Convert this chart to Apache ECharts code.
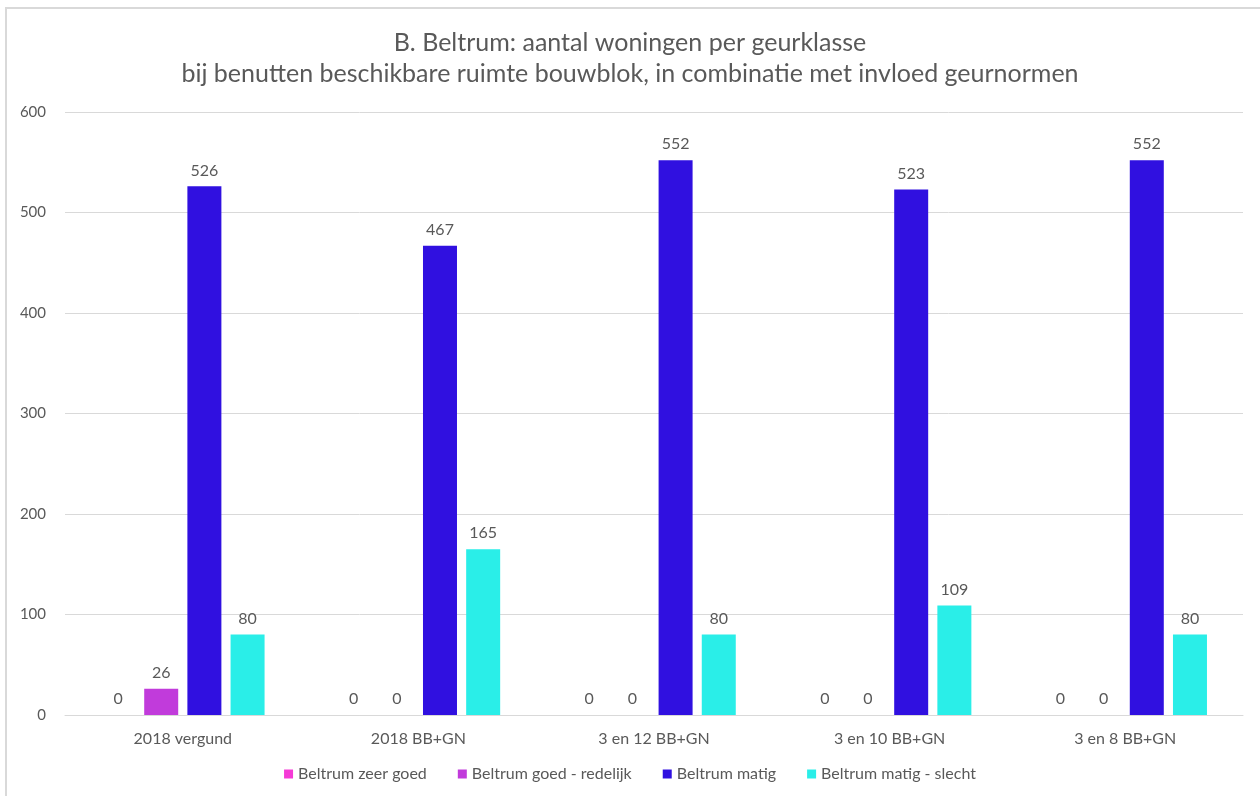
<!DOCTYPE html>
<html><head><meta charset="utf-8">
<script src="https://cdn.jsdelivr.net/npm/echarts@6/dist/echarts.min.js"></script>
<style>
html,body{margin:0;padding:0;background:#fff;}
#frame{position:absolute;left:5px;top:7px;width:1260px;height:800px;border-left:2px solid #d9d9d9;border-top:2px solid #d9d9d9;box-sizing:border-box;}
#c{position:absolute;left:0;top:0;width:1260px;height:796px;}
</style></head>
<body>
<div id="frame"></div>
<div id="c"></div>
<script>
const categories = ["2018 vergund", "2018 BB+GN", "3 en 12 BB+GN", "3 en 10 BB+GN", "3 en 8 BB+GN"];
const seriesNames = ["Beltrum zeer goed", "Beltrum goed - redelijk", "Beltrum matig", "Beltrum matig - slecht"];
const zeerGoed = [0, 0, 0, 0, 0];
const goedRedelijk = [26, 0, 0, 0, 0];
const matig = [526, 467, 552, 523, 552];
const matigSlecht = [80, 165, 80, 109, 80];
const yTicks = [0, 100, 200, 300, 400, 500, 600];
const colors = ["#F53AD6", "#C13BDB", "#3010E0", "#2AEEE8"];

const font = "Lato, 'Open Sans', sans-serif";
const values = [zeerGoed, goedRedelijk, matig, matigSlecht];
const chart = echarts.init(document.getElementById('c'), null, {renderer: 'canvas'});
chart.setOption({
  animation: false,
  color: colors,
  title: {
    text: "B. Beltrum: aantal woningen per geurklasse\nbij benutten beschikbare ruimte bouwblok, in combinatie met invloed geurnormen",
    left: 'center', top: 22,
    textStyle: {fontFamily: font, fontSize: 25, fontWeight: 'normal', color: '#595959', lineHeight: 31}
  },
  legend: {
    bottom: 9, left: 'center', itemWidth: 9, itemHeight: 9, itemGap: 31,
    icon: 'rect',
    textStyle: {fontFamily: font, fontSize: 16, color: '#595959'},
    data: seriesNames
  },
  grid: {left: 65, right: 17, top: 112, bottom: 81, containLabel: false},
  xAxis: {
    type: 'category', data: categories,
    axisLine: {lineStyle: {color: '#d9d9d9', width: 1}},
    axisTick: {show: false},
    axisLabel: {fontFamily: font, fontSize: 16, color: '#595959', margin: 16}
  },
  yAxis: {
    type: 'value', min: 0, max: 600, interval: 100,
    axisLine: {show: false}, axisTick: {show: false},
    splitLine: {lineStyle: {color: '#d9d9d9', width: 1}},
    axisLabel: {fontFamily: font, fontSize: 15, color: '#595959', margin: 19,
      formatter: v => yTicks.includes(v) ? String(v) : ''}
  },
  series: seriesNames.map((n, i) => ({
    name: n, type: 'bar', data: values[i],
    barWidth: 34, barGap: '27%', barCategoryGap: '31%',
    itemStyle: {color: colors[i]},
    label: {show: true, position: 'top', distance: 8, fontFamily: font, fontSize: 16, color: '#595959'}
  }))
});
</script>
</body></html>
